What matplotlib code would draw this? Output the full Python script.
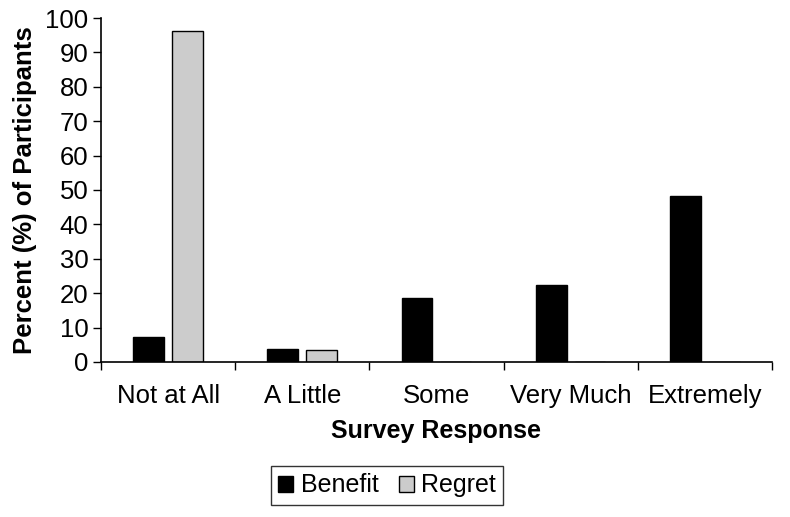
import numpy as np
import matplotlib.pyplot as plt
from matplotlib.patches import Patch

plt.rcParams['font.family'] = ['Liberation Sans', 'DejaVu Sans']

# data
categories = ['Not at All', 'A Little', 'Some', 'Very Much', 'Extremely']
benefit = [7.3, 3.8, 18.6, 22.3, 48.2]
regret = [96.2, 3.5, 0, 0, 0]

fig = plt.figure(figsize=(7.9, 5.17), dpi=100)
ax = fig.add_axes([0.128, 0.300, 0.849, 0.665])

x = np.arange(len(categories))
w = 0.23
ax.bar(x - 0.145, benefit, w, color='black', edgecolor='black', linewidth=1)
ax.bar(x + 0.145, regret, w, color='#cccccc', edgecolor='black', linewidth=1)

ax.set_xlim(-0.5, len(categories) - 0.5)
ax.set_ylim(0, 100)
ax.set_yticks(np.arange(0, 101, 10))
ax.tick_params(axis='y', labelsize=18.5, length=6, width=1, direction='out', pad=3)

# category ticks sit between groups, labels centred
ax.set_xticks(np.arange(-0.5, len(categories), 1.0))
ax.set_xticklabels([])
ax.set_xticks(x, minor=True)
ax.set_xticklabels(categories, minor=True, fontsize=18.5)
ax.tick_params(axis='x', which='major', length=6, width=1, direction='out')
ax.tick_params(axis='x', which='minor', length=0, pad=16)

for s in ['top', 'right']:
    ax.spines[s].set_visible(False)
for s in ['left', 'bottom']:
    ax.spines[s].set_linewidth(1.2)

ax.set_ylabel('Percent (%) of Participants', fontsize=18.5, fontweight='bold', labelpad=6)
ax.set_xlabel('Survey Response', fontsize=18, fontweight='bold', labelpad=8)

handles = [Patch(facecolor='black', edgecolor='black', label='Benefit'),
           Patch(facecolor='#cccccc', edgecolor='black', label='Regret')]
fig.legend(handles=handles, loc='center', bbox_to_anchor=(0.49, 0.061), ncol=2,
           fontsize=18, frameon=True, fancybox=False, edgecolor='black',
           handlelength=0.6, handleheight=0.6, handletextpad=0.3, columnspacing=0.8,
           borderpad=0.3)

fig.savefig('out.png', dpi=100)
